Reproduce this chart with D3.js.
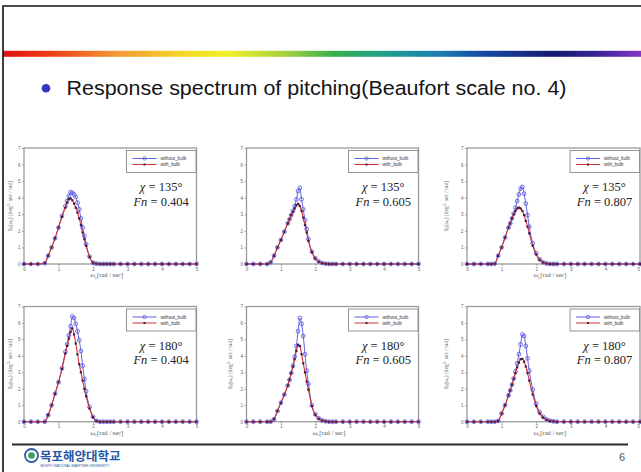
<!DOCTYPE html>
<html>
<head>
<meta charset="utf-8">
<script src="https://cdn.jsdelivr.net/npm/d3@7"></script>
<style>
body { margin: 0; background: #fff; }
svg { display: block; }
</style>
</head>
<body>
<div id="slide"></div>
<script>
// slide size
var svgWidth = 641;
var svgHeight = 472;

// encounter frequency grid, rad/sec
var omega = [0, 0.2, 0.4, 0.6, 0.7, 0.8, 0.9, 1.0, 1.1, 1.2, 1.25, 1.3, 1.35, 1.4, 1.45, 1.5, 1.55, 1.6, 1.65, 1.7, 1.75, 1.8,
  1.9, 2.0, 2.1, 2.2, 2.3, 2.4, 2.5, 2.6, 2.8, 3.0, 3.2, 3.4, 3.6, 3.8, 4.0, 4.2, 4.4, 4.6, 4.8, 5.0];

// pitching spectra (without / with bulb)
var without135_404 = [0, 0, 0, 0.05, 0.5, 1.0, 1.55, 2.2, 2.9, 3.5, 3.8, 4.1, 4.34, 4.3, 4.2, 4.05, 3.7, 3.3, 2.75, 2.2, 1.7, 1.2,
  0.45, 0.08, 0.02, 0, 0, 0, 0, 0, 0, 0, 0, 0, 0, 0, 0, 0, 0, 0, 0, 0];
var with135_404 = [0, 0, 0, 0.05, 0.5, 1.0, 1.55, 2.2, 2.85, 3.4, 3.7, 3.92, 3.95, 3.85, 3.65, 3.4, 3.1, 2.75, 2.35, 1.9, 1.5, 1.1,
  0.42, 0.08, 0.02, 0, 0, 0, 0, 0, 0, 0, 0, 0, 0, 0, 0, 0, 0, 0, 0, 0];
var without135_605 = [0, 0, 0, 0, 0.1, 0.5, 1.0, 1.45, 1.95, 2.45, 2.7, 2.95, 3.2, 3.5, 3.9, 4.4, 4.6, 3.9, 3.3, 2.65, 2.1, 1.5,
  0.75, 0.35, 0.15, 0.06, 0.02, 0, 0, 0, 0, 0, 0, 0, 0, 0, 0, 0, 0, 0, 0, 0];
var with135_605 = [0, 0, 0, 0, 0.1, 0.5, 1.0, 1.45, 1.95, 2.45, 2.7, 2.95, 3.15, 3.35, 3.55, 3.63, 3.5, 3.2, 2.8, 2.35, 1.9, 1.4,
  0.72, 0.33, 0.14, 0.05, 0.02, 0, 0, 0, 0, 0, 0, 0, 0, 0, 0, 0, 0, 0, 0, 0];
var without135_807 = [0, 0, 0, 0, 0, 0.02, 0.5, 1.0, 1.6, 2.2, 2.45, 2.75, 3.05, 3.4, 3.8, 4.2, 4.55, 4.65, 4.25, 3.65, 2.95, 2.25,
  1.25, 0.65, 0.28, 0.1, 0.03, 0, 0, 0, 0, 0, 0, 0, 0, 0, 0, 0, 0, 0, 0, 0];
var with135_807 = [0, 0, 0, 0, 0, 0.02, 0.5, 1.0, 1.6, 2.2, 2.45, 2.75, 3.0, 3.2, 3.35, 3.4, 3.35, 3.2, 2.95, 2.6, 2.25, 1.85,
  1.1, 0.58, 0.25, 0.09, 0.03, 0, 0, 0, 0, 0, 0, 0, 0, 0, 0, 0, 0, 0, 0, 0];
var without180_404 = [0, 0, 0, 0, 0.4, 1.0, 1.7, 2.4, 3.25, 4.25, 4.7, 5.25, 5.8, 6.4, 6.3, 5.95, 5.5, 4.95, 4.3, 3.4, 2.6, 1.85,
  0.9, 0.3, 0.05, 0, 0, 0, 0, 0, 0, 0, 0, 0, 0, 0, 0, 0, 0, 0, 0, 0];
var with180_404 = [0, 0, 0, 0, 0.4, 1.0, 1.7, 2.4, 3.2, 4.15, 4.6, 5.05, 5.45, 5.67, 5.3, 4.75, 4.1, 3.5, 3.0, 2.5, 2.0, 1.55,
  0.8, 0.28, 0.05, 0, 0, 0, 0, 0, 0, 0, 0, 0, 0, 0, 0, 0, 0, 0, 0, 0];
var without180_605 = [0, 0, 0, 0, 0, 0.15, 0.65, 1.15, 1.65, 2.2, 2.55, 2.95, 3.4, 3.95, 4.6, 5.5, 6.3, 5.95, 5.2, 4.1, 3.1, 2.3,
  1.0, 0.45, 0.2, 0.08, 0.03, 0, 0, 0, 0, 0, 0, 0, 0, 0, 0, 0, 0, 0, 0, 0];
var with180_605 = [0, 0, 0, 0, 0, 0.15, 0.65, 1.15, 1.65, 2.2, 2.55, 2.95, 3.35, 3.8, 4.3, 4.68, 4.6, 4.1, 3.55, 3.0, 2.45, 1.95,
  0.95, 0.42, 0.18, 0.07, 0.02, 0, 0, 0, 0, 0, 0, 0, 0, 0, 0, 0, 0, 0, 0, 0];
var without180_807 = [0, 0, 0, 0, 0, 0, 0.05, 0.5, 1.0, 1.6, 1.9, 2.25, 2.63, 3.05, 3.55, 4.1, 4.7, 5.3, 5.2, 4.6, 3.85, 3.1,
  1.95, 1.1, 0.58, 0.3, 0.14, 0.06, 0.02, 0, 0, 0, 0, 0, 0, 0, 0, 0, 0, 0, 0, 0];
var with180_807 = [0, 0, 0, 0, 0, 0, 0.05, 0.5, 1.0, 1.6, 1.9, 2.25, 2.6, 2.95, 3.3, 3.6, 3.8, 3.82, 3.65, 3.35, 2.95, 2.5,
  1.65, 0.95, 0.5, 0.25, 0.12, 0.05, 0.02, 0, 0, 0, 0, 0, 0, 0, 0, 0, 0, 0, 0, 0];

// panel captions
var headings = [135, 135, 135, 180, 180, 180];
var froudes = ["0.404", "0.605", "0.807", "0.404", "0.605", "0.807"];
var seriesNames = ["without_bulb", "with_bulb"];

// tick labels
var xTicks = [0, 1, 2, 3, 4, 5];
var yTicks = [0, 1, 2, 3, 4, 5, 6, 7];

var withoutSets = [without135_404, without135_605, without135_807, without180_404, without180_605, without180_807];
var withSets = [with135_404, with135_605, with135_807, with180_404, with180_605, with180_807];

// panel grid (plot areas)
var colLeft = [24, 246.5, 467];
var colWidth = [172.5, 172, 173];
var rowTop = [148, 306.5];
var rowHeight = [116, 115.2];
var yLabelGap = [12, 15, 19];
var hasXLabel = [true, false, true, true, true, true];
var hasYLabel = [true, false, true, true, true, true];

var blue = "#5f5fe2";
var red = "#d03434";

var svg = d3.select("#slide")
  .append("svg")
  .attr("width", svgWidth)
  .attr("height", svgHeight);

svg.append("rect").attr("width", svgWidth).attr("height", svgHeight).attr("fill", "#fff");

// rainbow bar
var defs = svg.append("defs");
var grad = defs.append("linearGradient").attr("id", "rainbow");
[["0", "#e01212"], ["0.07", "#ee3a14"], ["0.18", "#f39a34"], ["0.28", "#f5d628"], ["0.35", "#f2f028"],
 ["0.44", "#a8d23c"], ["0.52", "#34b04e"], ["0.6", "#1fa08e"], ["0.68", "#1f7fb0"], ["0.76", "#1446a0"],
 ["0.86", "#121a72"], ["0.93", "#3a2494"], ["1", "#8434c8"]].forEach(function(s) {
  grad.append("stop").attr("offset", s[0]).attr("stop-color", s[1]);
});
var soft = defs.append("filter").attr("id", "soft");
soft.append("feGaussianBlur").attr("stdDeviation", 0.7);

svg.append("rect")
  .attr("x", 3).attr("y", 50.8)
  .attr("width", svgWidth - 3).attr("height", 6)
  .attr("fill", "url(#rainbow)")
  .attr("filter", "url(#soft)");

// slide frame
svg.append("path")
  .attr("d", "M3,472 L3,6 L641,6")
  .attr("fill", "none")
  .attr("stroke", "#111")
  .attr("stroke-width", 1.6);

// title
svg.append("circle")
  .attr("cx", 46).attr("cy", 88.3).attr("r", 4.3)
  .attr("fill", "#3434c2");
svg.append("text")
  .attr("x", 66.5).attr("y", 94.5)
  .attr("textLength", 500)
  .attr("lengthAdjust", "spacingAndGlyphs")
  .style("font-family", "'Liberation Sans', Arial, sans-serif")
  .style("font-size", "20.5px")
  .style("fill", "#141414")
  .text("Response spectrum of pitching(Beaufort scale no. 4)");

// the six spectra
withoutSets.forEach(function(noBulb, i) {
  var col = i % 3, row = Math.floor(i / 3);
  var w = colWidth[col], h = rowHeight[row];

  var xScale = d3.scaleLinear().domain([0, 5]).range([0, w]);
  var yScale = d3.scaleLinear().domain([0, 7]).range([h, 0]);

  var g = svg.append("g")
    .attr("transform", `translate(${colLeft[col]}, ${rowTop[row]})`);

  // axes
  g.append("g")
    .attr("class", "yaxis")
    .call(d3.axisLeft(yScale).tickValues(yTicks).tickFormat(d3.format("d")).tickSize(2).tickPadding(1.5));
  var xa = g.append("g")
    .attr("class", "xaxis")
    .attr("transform", `translate(0, ${h})`)
    .call(d3.axisBottom(xScale).tickValues(xTicks).tickFormat(d3.format("d")).tickSize(2).tickPadding(1.5));
  g.selectAll(".domain").remove();
  g.selectAll(".tick line").attr("stroke", "#777").attr("stroke-width", 0.7);
  g.selectAll(".tick text")
    .style("font-family", "'Liberation Sans', Arial, sans-serif")
    .style("font-size", "4.5px")
    .style("fill", "#666");
  if (col === 2) {
    // last label would run off the slide edge
    xa.selectAll(".tick text").filter(function(d) { return d === 5; })
      .attr("text-anchor", "end").attr("dx", -0.5);
  }

  g.append("rect")
    .attr("width", w).attr("height", h)
    .attr("fill", "none")
    .attr("stroke", "#9a9a9a")
    .attr("stroke-width", 1.3);

  var pts = function(vals) {
    return vals.map(function(v, k) { return [omega[k], v]; });
  };
  var line = d3.line()
    .x(function(d) { return xScale(d[0]); })
    .y(function(d) { return yScale(d[1]); })
    .curve(d3.curveMonotoneX);

  var bulb = withSets[i];

  // without bulb: blue line, open circles
  g.append("path")
    .datum(pts(noBulb))
    .attr("d", line)
    .attr("fill", "none")
    .attr("stroke", blue)
    .attr("stroke-width", 1);
  g.append("g")
    .selectAll("circle")
    .data(pts(noBulb))
    .enter()
    .append("circle")
    .attr("cx", function(d) { return xScale(d[0]); })
    .attr("cy", function(d) { return yScale(d[1]); })
    .attr("r", 1.9)
    .attr("fill", "none")
    .attr("stroke", blue)
    .attr("stroke-width", 0.9);

  // with bulb: red line, dark markers
  g.append("path")
    .datum(pts(bulb))
    .attr("d", line)
    .attr("fill", "none")
    .attr("stroke", red)
    .attr("stroke-width", 1.1);
  g.append("g")
    .selectAll("rect")
    .data(pts(bulb))
    .enter()
    .append("rect")
    .attr("x", function(d) { return xScale(d[0]) - 1.1; })
    .attr("y", function(d) { return yScale(d[1]) - 1.1; })
    .attr("width", 2.2).attr("height", 2.2)
    .attr("fill", "#4a1838");

  // legend
  var lg = g.append("g").attr("transform", `translate(${w - 70}, 2.5)`);
  lg.append("rect")
    .attr("width", 69.5).attr("height", 22)
    .attr("fill", "#fff")
    .attr("stroke", "#8a8a8a")
    .attr("stroke-width", 0.9);
  seriesNames.forEach(function(name, k) {
    var ly = k === 0 ? 8 : 14;
    lg.append("line")
      .attr("x1", 6).attr("x2", 30).attr("y1", ly).attr("y2", ly)
      .attr("stroke", k === 0 ? blue : red)
      .attr("stroke-width", 1);
    if (k === 0) {
      lg.append("circle").attr("cx", 18).attr("cy", ly).attr("r", 1.7)
        .attr("fill", "none").attr("stroke", blue).attr("stroke-width", 0.8);
    } else {
      lg.append("rect").attr("x", 17).attr("y", ly - 1).attr("width", 2).attr("height", 2)
        .attr("fill", "#4a1838");
    }
    lg.append("text")
      .attr("x", 34).attr("y", ly + 1.5)
      .style("font-family", "'Liberation Sans', Arial, sans-serif")
      .style("font-size", "4.6px")
      .style("fill", "#333")
      .text(name);
  });

  // chi / Fn captions
  var cx = w * 0.795;
  var chi = g.append("text")
    .attr("x", cx).attr("y", 43)
    .attr("text-anchor", "middle")
    .style("font-family", "'Liberation Serif', 'Times New Roman', serif")
    .style("font-size", "12.5px")
    .style("fill", "#222");
  chi.append("tspan").style("font-style", "italic").text("\u03c7");
  chi.append("tspan").text(" = " + headings[i] + "\u00b0");

  var fn = g.append("text")
    .attr("x", cx).attr("y", 57.5)
    .attr("text-anchor", "middle")
    .style("font-family", "'Liberation Serif', 'Times New Roman', serif")
    .style("font-size", "12.5px")
    .style("fill", "#222");
  fn.append("tspan").style("font-style", "italic").text("Fn");
  fn.append("tspan").text(" = " + froudes[i]);

  // axis titles
  if (hasXLabel[i]) {
    var xl = g.append("text")
      .attr("x", w * 0.48).attr("y", h + 13)
      .attr("text-anchor", "middle")
      .style("font-family", "'Liberation Serif', 'Times New Roman', serif")
      .style("font-size", "6.5px")
      .style("fill", "#555");
    xl.append("tspan").style("font-style", "italic").text("\u03c9");
    xl.append("tspan").attr("dy", 1.5).style("font-size", "4.5px").text("e");
    xl.append("tspan").attr("dy", -1.5).text("[rad / sec]");
  }
  if (hasYLabel[i]) {
    var yl = g.append("text")
      .attr("transform", `translate(${-yLabelGap[col]}, ${h / 2}) rotate(-90)`)
      .attr("text-anchor", "middle")
      .style("font-family", "'Liberation Serif', 'Times New Roman', serif")
      .style("font-size", "5.5px")
      .style("fill", "#666");
    yl.append("tspan").style("font-style", "italic").text("S");
    yl.append("tspan").attr("dy", 1.3).style("font-size", "4px").text("\u03b8");
    yl.append("tspan").attr("dy", -1.3).text("(\u03c9");
    yl.append("tspan").attr("dy", 1.3).style("font-size", "4px").text("e");
    yl.append("tspan").attr("dy", -1.3).text(") [deg");
    yl.append("tspan").attr("dy", -1.8).style("font-size", "4px").text("2");
    yl.append("tspan").attr("dy", 1.8).text("\u00b7 sec / rad]");
  }
});

// footer
svg.append("line")
  .attr("x1", 12).attr("x2", 628)
  .attr("y1", 444.5).attr("y2", 444.5)
  .attr("stroke", "#2a2a2a")
  .attr("stroke-width", 2);

svg.append("circle").attr("cx", 31.5).attr("cy", 455.5).attr("r", 6.5)
  .attr("fill", "#fff").attr("stroke", "#2c5aa8").attr("stroke-width", 1.8);
svg.append("circle").attr("cx", 31.5).attr("cy", 455.5).attr("r", 3.3)
  .attr("fill", "#3aa05a");
svg.append("text")
  .attr("x", 40).attr("y", 460.5)
  .style("font-family", "'Noto Sans CJK KR', sans-serif")
  .style("font-weight", "bold")
  .style("font-size", "12.5px")
  .style("fill", "#2456a4")
  .text("목포해양대학교");
svg.append("text")
  .attr("x", 40.5).attr("y", 466.5)
  .style("font-family", "'Liberation Sans', Arial, sans-serif")
  .style("font-size", "3.4px")
  .style("fill", "#2456a4")
  .text("MOKPO NATIONAL MARITIME UNIVERSITY");

svg.append("text")
  .attr("x", 622).attr("y", 461)
  .attr("text-anchor", "middle")
  .style("font-family", "'Liberation Sans', Arial, sans-serif")
  .style("font-size", "11px")
  .style("fill", "#555")
  .text("6");
</script>
</body>
</html>
